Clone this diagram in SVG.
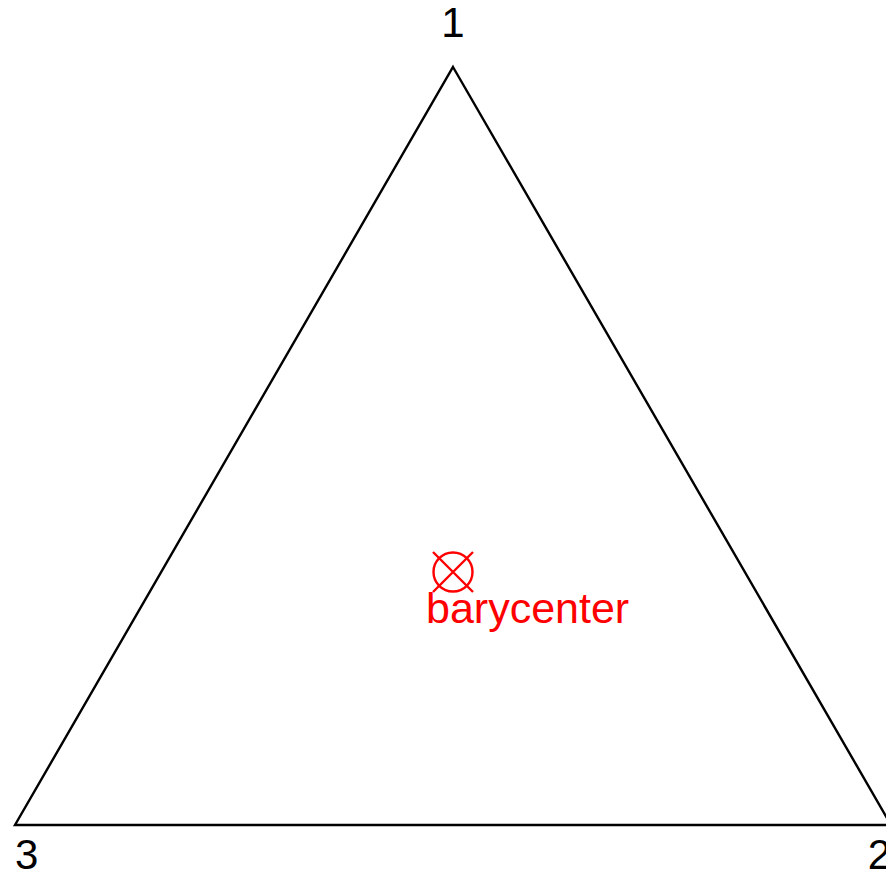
<svg xmlns="http://www.w3.org/2000/svg" width="886" height="875" viewBox="0 0 886 875">
<style>
.lbl{font-family:"Liberation Sans",Arial,sans-serif;font-size:42px;fill:#000}
.red{fill:#ff0000;font-size:43px}
.edge{fill:none;stroke:#000;stroke-width:2.4}
.mark{fill:none;stroke:#ff0000;stroke-width:2.4}
</style>
<rect width="886" height="875" fill="#fff"/>
<g id="connectors">
<polygon class="edge" points="453,67 891,825 15,825"/>
</g>
<g id="v1"><text class="lbl" x="453" y="37" text-anchor="middle">1</text></g>
<g id="v2"><text class="lbl" x="891" y="869" text-anchor="end">2</text></g>
<g id="v3"><text class="lbl" x="15" y="869">3</text></g>
<g id="barycenter">
<circle class="mark" cx="453" cy="572" r="19.5"/>
<path class="mark" d="M433,552 L473,592 M433,592 L473,552"/>
<text class="lbl red" x="426" y="623">barycenter</text>
</g>
</svg>
